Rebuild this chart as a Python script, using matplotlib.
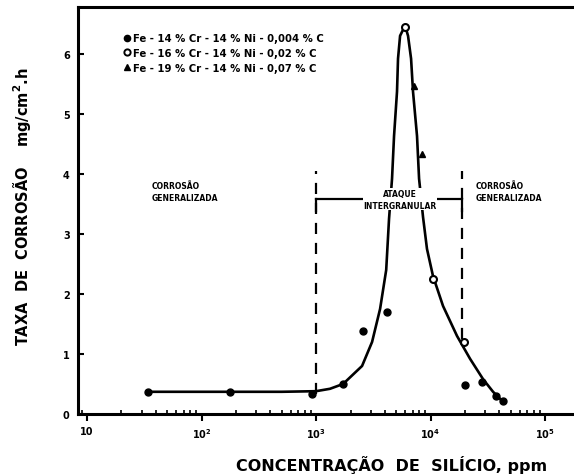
import numpy as np
import matplotlib
matplotlib.use("Agg")
import matplotlib.pyplot as plt
from matplotlib.lines import Line2D

# fitted curve
curve_x = [34, 178, 500, 1000, 1324, 1722, 2523, 3086, 3625, 4100, 4340, 4610, 4800,
           5095, 5200, 5420, 5990, 6360, 6760, 7030, 7620, 7940, 8600, 9310, 10500,
           12850, 17030, 22130, 28770, 35150, 42100]
curve_y = [0.37, 0.37, 0.37, 0.38, 0.42, 0.50, 0.80, 1.20, 1.75, 2.40, 3.25, 3.92, 4.63,
           5.37, 5.92, 6.30, 6.47, 6.30, 5.92, 5.37, 4.63, 3.92, 3.28, 2.75, 2.30,
           1.80, 1.30, 0.92, 0.58, 0.37, 0.22]

# measured points
s1_x = [34, 178, 920, 1720, 2570, 4170, 20000, 28000, 37000, 43000]
s1_y = [0.37, 0.37, 0.33, 0.50, 1.38, 1.70, 0.48, 0.53, 0.30, 0.22]
s2_x = [6000, 10600, 19500]
s2_y = [6.45, 2.25, 1.20]
s3_x = [7200, 8440]
s3_y = [5.47, 4.33]

labels = ["Fe - 14 % Cr - 14 % Ni - 0,004 % C",
          "Fe - 16 % Cr - 14 % Ni - 0,02 % C",
          "Fe - 19 % Cr - 14 % Ni - 0,07 % C"]

# limits of the intergranular attack zone
zone_x = [1000, 18800]
zone_ylo = [0.33, 1.25]
zone_top = 4.05
bracket_y = 3.58

plt.rcParams['font.family'] = 'DejaVu Sans'
plt.rcParams['font.weight'] = 'bold'

fig = plt.figure(figsize=(5.74, 4.77), dpi=100)
ax = fig.add_axes([78 / 574, 1 - 415 / 477, 496 / 574, 407 / 477])

ax.plot(curve_x, curve_y, color='black', lw=1.9, zorder=3, solid_joinstyle='round')
ax.plot(s1_x, s1_y, 'o', color='black', ms=5, zorder=4)
ax.plot(s2_x, s2_y, 'o', mfc='white', mec='black', mew=1.5, ms=5, zorder=4)
ax.plot(s3_x, s3_y, '^', color='black', ms=5, zorder=4)

for x, ylo in zip(zone_x, zone_ylo):
    ax.plot([x, x], [ylo, zone_top], color='black', lw=1.6, ls=(0, (5, 4)), zorder=2)
ax.plot(zone_x, [bracket_y, bracket_y], color='black', lw=1.6, zorder=2)
for x in zone_x:
    ax.plot([x, x], [bracket_y, bracket_y - 0.2], color='black', lw=1.6, zorder=2)

ax.text(0.149, 0.572, "CORROSÃO\nGENERALIZADA", transform=ax.transAxes,
        fontsize=5.5, va='top', ha='left', linespacing=1.4)
ax.text(0.802, 0.572, "CORROSÃO\nGENERALIZADA", transform=ax.transAxes,
        fontsize=5.5, va='top', ha='left', linespacing=1.4)
ax.text(0.649, 0.528, "ATAQUE\nINTERGRANULAR", transform=ax.transAxes,
        fontsize=5.5, va='center', ha='center', linespacing=1.4, zorder=5,
        bbox=dict(facecolor='white', edgecolor='none', pad=0.5))

handles = [Line2D([], [], ls='none', marker='o', color='black', ms=4.5),
           Line2D([], [], ls='none', marker='o', mfc='white', mec='black', mew=1.4, ms=4.5),
           Line2D([], [], ls='none', marker='^', color='black', ms=4.5)]
ax.legend(handles, labels, loc='upper left', bbox_to_anchor=(0.093, 0.935),
          frameon=False, fontsize=7.3, handlelength=0.6, handletextpad=0.3,
          labelspacing=0.45, borderpad=0, borderaxespad=0)

ax.set_xscale('log')
ax.set_xlim(8.34, 179000)
ax.set_ylim(0, 6.78)
ax.set_xticks([10, 100, 1000, 10000, 100000])
ax.set_xticklabels(['10', '$\\mathbf{10^2}$', '$\\mathbf{10^3}$', '$\\mathbf{10^4}$', '$\\mathbf{10^5}$'])
ax.set_yticks(range(7))
ax.tick_params(axis='x', which='major', direction='out', length=5, width=1.5, labelsize=7, pad=4)
ax.tick_params(axis='x', which='minor', direction='in', length=3, width=1.2)
ax.tick_params(axis='y', direction='in', length=4, width=1.5, labelsize=7, pad=6)

ax.spines['right'].set_visible(False)
for s in ['left', 'top', 'bottom']:
    ax.spines[s].set_linewidth(2.2)

fig.text(392 / 574, 1 - 465 / 477, "CONCENTRAÇÃO  DE  SILÍCIO, ppm",
         fontsize=11.5, ha='center', va='center')
fig.text(22 / 574, 1 - 207 / 477, "TAXA  DE  CORROSÃO    mg/cm$^\\mathbf{2}$.h",
         fontsize=10.5, ha='center', va='center', rotation=90)

fig.savefig('out.png', dpi=100)
